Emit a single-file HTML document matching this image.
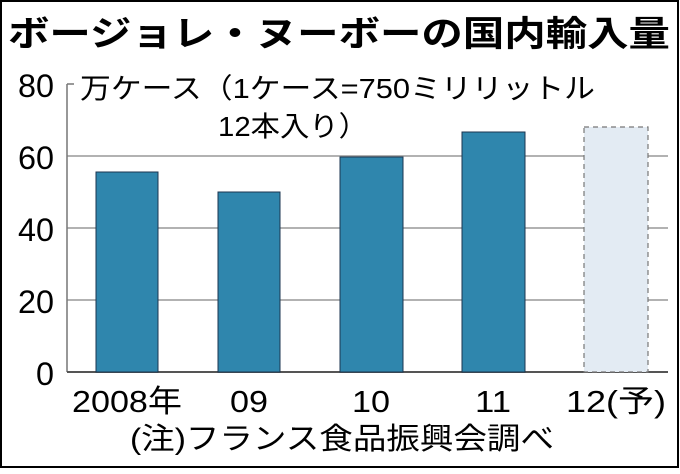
<!DOCTYPE html>
<html><head><meta charset="utf-8"><style>
body{margin:0;width:680px;height:469px;background:#fff;overflow:hidden}
svg text{font-family:"Liberation Sans","Noto Sans CJK JP",sans-serif}
</style></head><body>
<svg width="680" height="469" viewBox="0 0 680 469">
<rect x="1" y="1" width="677" height="466" fill="#fff" stroke="#000" stroke-width="2"/>
<text x="8" y="46" font-size="35" font-weight="bold" textLength="662" lengthAdjust="spacingAndGlyphs">ボージョレ・ヌーボーの国内輸入量</text>
<g stroke="#999" stroke-width="1.5">
<line x1="67" y1="156" x2="668" y2="156"/>
<line x1="67" y1="228" x2="668" y2="228"/>
<line x1="67" y1="300" x2="668" y2="300"/>
</g>
<line x1="67" y1="84" x2="67" y2="372" stroke="#777" stroke-width="1.5"/>
<line x1="67" y1="84" x2="74" y2="84" stroke="#777" stroke-width="1.5"/>
<line x1="67" y1="372" x2="668" y2="372" stroke="#555" stroke-width="2"/>
<g fill="#2f86ad" stroke="#1b3550" stroke-width="1">
<rect x="96" y="172" width="62" height="200"/>
<rect x="218" y="192" width="62" height="180"/>
<rect x="340" y="157" width="63" height="215"/>
<rect x="462" y="132" width="63" height="240"/>
</g>
<rect x="584" y="127" width="64" height="245" fill="#e3ebf3" stroke="#777" stroke-width="1.2" stroke-dasharray="5,4"/>
<g font-size="32" text-anchor="end">
<text x="54" y="97" textLength="36" lengthAdjust="spacingAndGlyphs">80</text>
<text x="54" y="169" textLength="36" lengthAdjust="spacingAndGlyphs">60</text>
<text x="54" y="241" textLength="36" lengthAdjust="spacingAndGlyphs">40</text>
<text x="54" y="313" textLength="36" lengthAdjust="spacingAndGlyphs">20</text>
<text x="54" y="385" textLength="18" lengthAdjust="spacingAndGlyphs">0</text>
</g>
<text x="80" y="98" font-size="28" textLength="515" lengthAdjust="spacingAndGlyphs">万ケース（1ケース=750ミリリットル</text>
<text x="218" y="136" font-size="28" textLength="150" lengthAdjust="spacingAndGlyphs">12本入り）</text>
<g font-size="31" text-anchor="middle">
<text x="127" y="412" textLength="110" lengthAdjust="spacingAndGlyphs">2008年</text>
<text x="249" y="412" textLength="38" lengthAdjust="spacingAndGlyphs">09</text>
<text x="371" y="412" textLength="38" lengthAdjust="spacingAndGlyphs">10</text>
<text x="493" y="412" textLength="36" lengthAdjust="spacingAndGlyphs">11</text>
<text x="616" y="412" textLength="100" lengthAdjust="spacingAndGlyphs">12(予)</text>
</g>
<text x="130" y="449" font-size="30" textLength="424" lengthAdjust="spacingAndGlyphs">(注)フランス食品振興会調べ</text>
</svg>
</body></html>
